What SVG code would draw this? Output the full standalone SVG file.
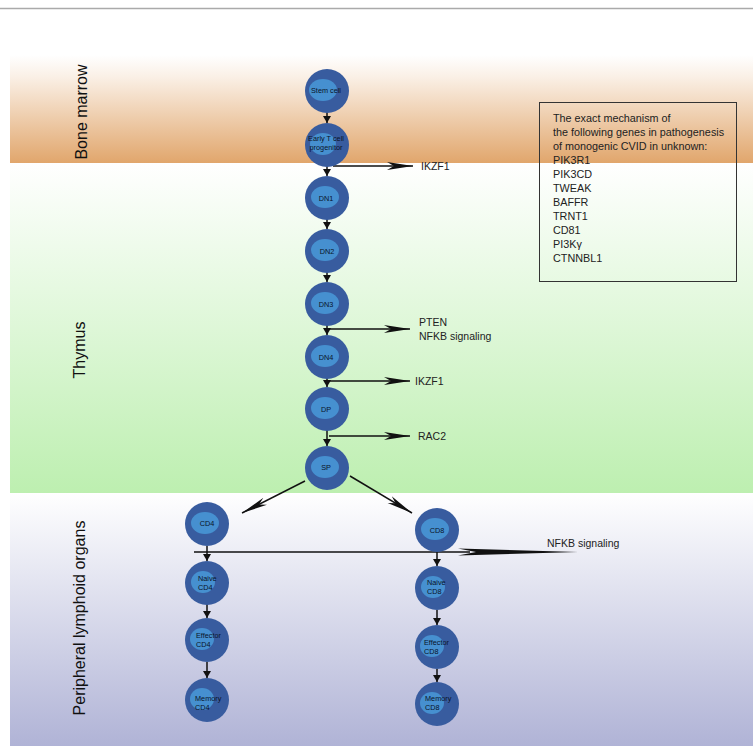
<svg xmlns="http://www.w3.org/2000/svg" width="753" height="746" viewBox="0 0 753 746">
<defs>
<linearGradient id="gBone" x1="0" y1="0" x2="0" y2="1">
<stop offset="0" stop-color="#ffffff"/>
<stop offset="0.2" stop-color="#faf0e6"/>
<stop offset="1" stop-color="#e1a66c"/>
</linearGradient>
<linearGradient id="gThy" x1="0" y1="0" x2="0" y2="1">
<stop offset="0" stop-color="#ffffff"/>
<stop offset="1" stop-color="#bdefb0"/>
</linearGradient>
<linearGradient id="gPer" x1="0" y1="0" x2="0" y2="1">
<stop offset="0" stop-color="#ffffff"/>
<stop offset="1" stop-color="#b0b3d6"/>
</linearGradient>
<marker id="barb" viewBox="0 0 26 10" refX="26" refY="5" markerWidth="26" markerHeight="10" markerUnits="userSpaceOnUse" orient="auto">
<path d="M0,1 L26,5 L0,9 L7,5 Z" fill="#111"/>
</marker>
<marker id="tri" viewBox="0 0 7 8" refX="7" refY="4" markerWidth="7" markerHeight="8" markerUnits="userSpaceOnUse" orient="auto">
<path d="M0,0 L7,4 L0,8 Z" fill="#111"/>
</marker>
<style>
.lane{font-family:"Liberation Sans",Arial,sans-serif;font-size:16px;fill:#111;text-anchor:middle}
.lbl{font-family:"Liberation Sans",Arial,sans-serif;font-size:10.5px;fill:#222}
.box{font-family:"Liberation Sans",Arial,sans-serif;font-size:10.8px;fill:#222}
.ct{font-family:"Liberation Sans",Arial,sans-serif;font-size:7.3px;fill:#0a1429}
.ctc{font-family:"Liberation Sans",Arial,sans-serif;font-size:7.3px;fill:#0a1429;text-anchor:middle}
.outer{fill:#385c9f}
.inner{fill:#4690d0}
.ln{stroke:#111;stroke-width:1.5;fill:none}
.va{stroke:#111;stroke-width:1.5;fill:none;marker-end:url(#tri)}
.sa{stroke:#111;stroke-width:1.5;fill:none;marker-end:url(#barb)}
</style>
</defs>
<g id="background">
<line x1="0" y1="8.5" x2="753" y2="8.5" stroke="#aaaaaa" stroke-width="1.5"/>
<rect x="10" y="55" width="743" height="108" fill="url(#gBone)"/>
<rect x="10" y="163" width="743" height="330" fill="url(#gThy)"/>
<rect x="10" y="493" width="743" height="253" fill="url(#gPer)"/>
<text class="lane" transform="translate(87,112) rotate(-90)">Bone marrow</text>
<text class="lane" transform="translate(85,350) rotate(-90)">Thymus</text>
<text class="lane" transform="translate(85,618) rotate(-90)">Peripheral lymphoid organs</text>
</g>
<g id="connectors">
<line class="va" x1="327" y1="111" x2="327" y2="123"/>
<line class="va" x1="327" y1="166" x2="327" y2="176"/>
<line class="va" x1="327" y1="219" x2="327" y2="229"/>
<line class="va" x1="327" y1="272" x2="327" y2="282"/>
<line class="va" x1="327" y1="325" x2="327" y2="335"/>
<line class="va" x1="327" y1="378" x2="327" y2="387"/>
<line class="va" x1="327" y1="430" x2="327" y2="446"/>
<line class="sa" x1="333" y1="166" x2="413" y2="166"/>
<line class="sa" x1="329" y1="329" x2="410" y2="329"/>
<line class="sa" x1="329" y1="381" x2="410" y2="381"/>
<line class="sa" x1="329" y1="436" x2="410" y2="436"/>
<line class="sa" x1="305" y1="481" x2="242" y2="513"/>
<line class="sa" x1="350" y1="476" x2="412" y2="513"/>
<line class="ln" x1="194" y1="552" x2="470" y2="552"/>
<polygon points="458,548.5 578,552 458,555.5 476,552" fill="#111"/>
<line class="va" x1="207" y1="546" x2="207" y2="561"/>
<line class="va" x1="437" y1="551" x2="437" y2="566"/>
<line class="va" x1="207" y1="604" x2="207" y2="618"/>
<line class="va" x1="437" y1="610" x2="437" y2="625"/>
<line class="va" x1="207" y1="662" x2="207" y2="678"/>
<line class="va" x1="437" y1="669" x2="437" y2="682"/>
</g>
<g id="stem-cell"><circle class="outer" cx="327" cy="91" r="22"/><ellipse class="inner" cx="323" cy="90" rx="14" ry="11"/><text class="ctc" x="326" y="93">Stem cell</text></g>
<g id="early-t-cell-progenitor"><circle class="outer" cx="327" cy="145" r="22"/><ellipse class="inner" cx="323" cy="144" rx="13" ry="11"/><text class="ctc" x="326" y="141">Early T cell</text><text class="ctc" x="326" y="150">progenitor</text></g>
<g id="dn1"><circle class="outer" cx="327" cy="198" r="22"/><ellipse class="inner" cx="325" cy="197" rx="14" ry="11"/><text class="ctc" x="326" y="200.5">DN1</text></g>
<g id="dn2"><circle class="outer" cx="327" cy="251" r="22"/><ellipse class="inner" cx="325" cy="250" rx="14" ry="11"/><text class="ctc" x="327" y="253.5">DN2</text></g>
<g id="dn3"><circle class="outer" cx="327" cy="304" r="22"/><ellipse class="inner" cx="325" cy="303" rx="14" ry="11"/><text class="ctc" x="326" y="307">DN3</text></g>
<g id="dn4"><circle class="outer" cx="327" cy="357" r="22"/><ellipse class="inner" cx="325" cy="356" rx="14" ry="11"/><text class="ctc" x="326" y="359.5">DN4</text></g>
<g id="dp"><circle class="outer" cx="327" cy="409" r="22"/><ellipse class="inner" cx="325" cy="408" rx="14" ry="11"/><text class="ctc" x="326" y="411.5">DP</text></g>
<g id="sp"><circle class="outer" cx="327" cy="468" r="22"/><ellipse class="inner" cx="325" cy="467" rx="14" ry="11"/><text class="ctc" x="326" y="470">SP</text></g>
<g id="cd4"><circle class="outer" cx="207" cy="524" r="22"/><ellipse class="inner" cx="205" cy="523" rx="14" ry="11"/><text class="ctc" x="207" y="525.5">CD4</text></g>
<g id="cd8"><circle class="outer" cx="437" cy="530" r="22"/><ellipse class="inner" cx="435" cy="529" rx="14" ry="11"/><text class="ctc" x="437" y="532.5">CD8</text></g>
<g id="naive-cd4"><circle class="outer" cx="207" cy="583" r="22"/><ellipse class="inner" cx="203" cy="582" rx="12" ry="11"/><text class="ct" x="198" y="581">Naive</text><text class="ct" x="198" y="590">CD4</text></g>
<g id="effector-cd4"><circle class="outer" cx="207" cy="640" r="22"/><ellipse class="inner" cx="202" cy="639" rx="12" ry="11"/><text class="ct" x="196" y="637.5">Effector</text><text class="ct" x="196" y="646.5">CD4</text></g>
<g id="memory-cd4"><circle class="outer" cx="207" cy="700" r="22"/><ellipse class="inner" cx="202" cy="699" rx="12" ry="11"/><text class="ct" x="195" y="701">Memory</text><text class="ct" x="195" y="710">CD4</text></g>
<g id="naive-cd8"><circle class="outer" cx="437" cy="588" r="22"/><ellipse class="inner" cx="433" cy="587" rx="12" ry="11"/><text class="ct" x="427" y="585">Naive</text><text class="ct" x="427" y="594">CD8</text></g>
<g id="effector-cd8"><circle class="outer" cx="437" cy="647" r="22"/><ellipse class="inner" cx="432" cy="646" rx="12" ry="11"/><text class="ct" x="424" y="644.5">Effector</text><text class="ct" x="424" y="653.5">CD8</text></g>
<g id="memory-cd8"><circle class="outer" cx="437" cy="704" r="22"/><ellipse class="inner" cx="432" cy="703" rx="12" ry="11"/><text class="ct" x="425" y="700.5">Memory</text><text class="ct" x="425" y="709.5">CD8</text></g>
<g id="labels">
<text class="lbl" x="421" y="170">IKZF1</text>
<text class="lbl" x="419" y="326">PTEN</text>
<text class="lbl" x="419" y="340">NFKB signaling</text>
<text class="lbl" x="415" y="385">IKZF1</text>
<text class="lbl" x="418" y="440">RAC2</text>
<text class="lbl" x="547" y="547">NFKB signaling</text>
</g>
<g id="note-box">
<rect x="539.5" y="102.5" width="197" height="179" fill="none" stroke="#333" stroke-width="1"/>
<text class="box" x="553"><tspan x="553" y="122">The exact mechanism of</tspan><tspan x="553" y="136">the following genes in pathogenesis</tspan><tspan x="553" y="150">of monogenic CVID in unknown:</tspan><tspan x="553" y="164">PIK3R1</tspan><tspan x="553" y="178">PIK3CD</tspan><tspan x="553" y="192">TWEAK</tspan><tspan x="553" y="206">BAFFR</tspan><tspan x="553" y="220">TRNT1</tspan><tspan x="553" y="234">CD81</tspan><tspan x="553" y="248">PI3Kγ</tspan><tspan x="553" y="262">CTNNBL1</tspan></text>
</g>
</svg>
